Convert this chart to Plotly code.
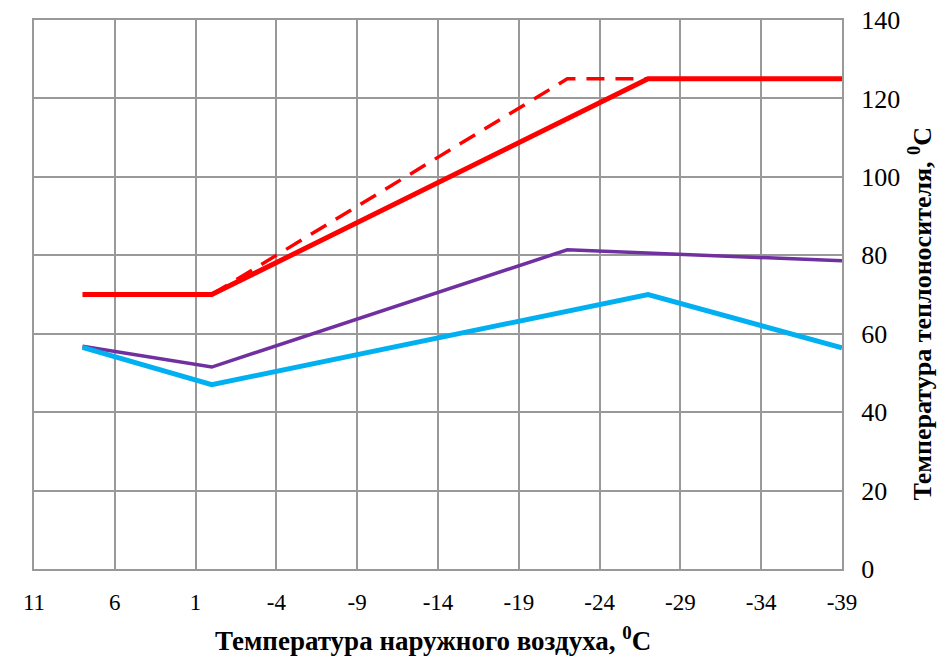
import plotly.graph_objects as go

# Data (outdoor temperature, °C -> heat carrier temperature, °C)
red_x = [8, 0, -27, -39]
red_y = [70, 70, 125, 125]
red_dash_x = [0, -22, -27]
red_dash_y = [70, 125, 125]
purple_x = [8, 0, -22, -39]
purple_y = [56.8, 51.5, 81.4, 78.6]
cyan_x = [8, 0, -27, -39]
cyan_y = [56.5, 47.0, 70.0, 56.4]

x_ticks = [11, 6, 1, -4, -9, -14, -19, -24, -29, -34, -39]
y_ticks = [0, 20, 40, 60, 80, 100, 120, 140]

x_title = "<b>Температура наружного воздуха, <sup>0</sup>C</b>"
y_title = "<b>Температура теплоносителя, <sup>0</sup>C</b>"

fig = go.Figure()
fig.add_trace(go.Scatter(x=purple_x, y=purple_y, mode="lines",
                         line=dict(color="#7030A0", width=3.5)))
fig.add_trace(go.Scatter(x=cyan_x, y=cyan_y, mode="lines",
                         line=dict(color="#00B0F0", width=5)))
fig.add_trace(go.Scatter(x=red_x, y=red_y, mode="lines",
                         line=dict(color="#FF0000", width=5)))
fig.add_trace(go.Scatter(x=red_dash_x, y=red_dash_y, mode="lines",
                         line=dict(color="#FF0000", width=3.5, dash="18px,11px")))

font_family = "Liberation Serif"

fig.update_layout(
    width=939, height=656,
    margin=dict(l=34, r=97, t=20, b=87),
    paper_bgcolor="white", plot_bgcolor="white",
    showlegend=False,
    font=dict(family=font_family, color="black"),
    xaxis=dict(
        range=[11, -39], tickvals=x_ticks, ticktext=[str(v) for v in x_ticks],
        showgrid=True, gridcolor="#999999", gridwidth=2,
        showline=True, linecolor="#999999", linewidth=2, mirror=True,
        zeroline=False, ticks="outside", ticklen=11, tickcolor="rgba(0,0,0,0)",
        tickfont=dict(size=23, family=font_family, color="black"),
        automargin=False,
    ),
    yaxis=dict(
        side="right", range=[0, 140], tickvals=y_ticks,
        showgrid=True, gridcolor="#999999", gridwidth=2,
        showline=True, linecolor="#999999", linewidth=2, mirror=True,
        zeroline=False, ticks="outside", ticklen=12, tickcolor="rgba(0,0,0,0)",
        tickfont=dict(size=26, family=font_family, color="black"),
        automargin=False,
    ),
    annotations=[
        dict(text=x_title, xref="paper", yref="paper", x=0.494, y=-0.128,
             xanchor="center", yanchor="middle", showarrow=False,
             font=dict(size=27, family=font_family, color="black")),
        dict(text=y_title, xref="paper", yref="paper", x=1.097, y=0.466,
             xanchor="center", yanchor="middle", showarrow=False, textangle=-90,
             font=dict(size=26, family=font_family, color="black")),
    ],
)

fig.write_html("out.html")
